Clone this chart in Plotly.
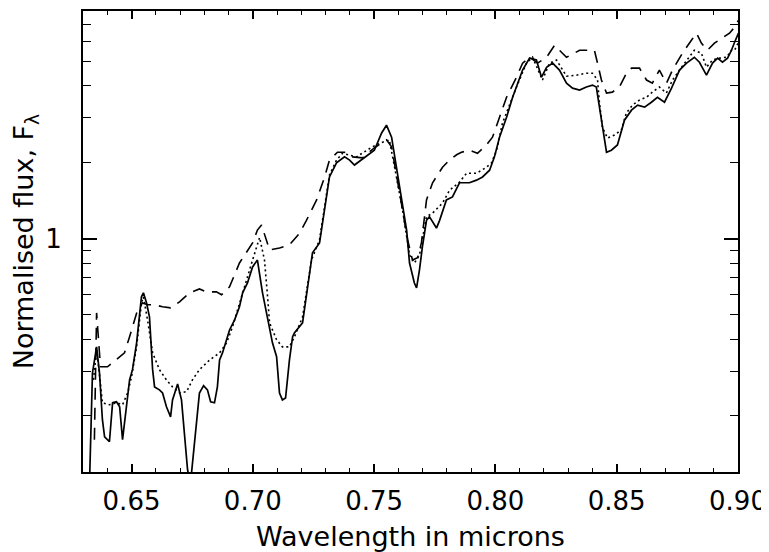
import plotly.graph_objects as go

# ---- data (wavelength in microns, normalised flux) ----
solid_wl = [0.6327, 0.6339, 0.6356, 0.6368, 0.6380, 0.6389, 0.6409, 0.6422, 0.6438, 0.6451,
            0.6463, 0.6475, 0.6492, 0.6504, 0.6521, 0.6541, 0.6549, 0.6562, 0.6574, 0.6587,
            0.6595, 0.6615, 0.6628, 0.6644, 0.6661, 0.6669, 0.6690, 0.6706, 0.6718, 0.6731,
            0.6743, 0.6768, 0.6780, 0.6797, 0.6813, 0.6826, 0.6842, 0.6854, 0.6863, 0.6875,
            0.6896, 0.6904, 0.6925, 0.6945, 0.6958, 0.6978, 0.6999, 0.7019, 0.7040, 0.7069,
            0.7081, 0.7098, 0.7110, 0.7122, 0.7135, 0.7151, 0.7164, 0.7172, 0.7205, 0.7246,
            0.7275, 0.7316, 0.7345, 0.7378, 0.7399, 0.7419, 0.7460, 0.7501, 0.7531, 0.7551,
            0.7572, 0.7592, 0.7617, 0.7634, 0.7646, 0.7666, 0.7675, 0.7687, 0.7699, 0.7716,
            0.7728, 0.7757, 0.7770, 0.7798, 0.7823, 0.7852, 0.7893, 0.7922, 0.7947, 0.7976,
            0.7996, 0.8017, 0.8046, 0.8071, 0.8112, 0.8141, 0.8169, 0.8190, 0.8211, 0.8236,
            0.8264, 0.8293, 0.8318, 0.8347, 0.8375, 0.8400, 0.8416, 0.8429, 0.8441, 0.8458,
            0.8478, 0.8503, 0.8532, 0.8561, 0.8586, 0.8615, 0.8643, 0.8668, 0.8697, 0.8726,
            0.8759, 0.8788, 0.8820, 0.8841, 0.8870, 0.8895, 0.8916, 0.8936, 0.8957, 0.8973,
            0.8986, 0.9002]
solid_flux = [0.110, 0.295, 0.374, 0.295, 0.193, 0.165, 0.158, 0.225, 0.227, 0.217,
              0.161, 0.198, 0.277, 0.304, 0.388, 0.589, 0.611, 0.557, 0.491, 0.304,
              0.260, 0.253, 0.246, 0.217, 0.198, 0.231, 0.267, 0.231, 0.171, 0.1225,
              0.108, 0.181, 0.246, 0.263, 0.253, 0.227, 0.225, 0.260, 0.332, 0.354,
              0.410, 0.436, 0.478, 0.538, 0.611, 0.668, 0.773, 0.823, 0.611, 0.448,
              0.388, 0.342, 0.246, 0.231, 0.235, 0.332, 0.410, 0.425, 0.465, 0.878,
              0.961, 1.75, 1.99, 2.10, 2.04, 1.95, 2.08, 2.23, 2.61, 2.80,
              2.51, 1.91, 1.33, 1.08, 0.801, 0.668, 0.639, 0.752, 0.927, 1.18,
              1.22, 1.10, 1.18, 1.42, 1.46, 1.66, 1.66, 1.70, 1.75, 1.86,
              2.10, 2.51, 3.01, 3.61, 4.62, 5.15, 5.06, 4.33, 4.74, 4.92,
              4.62, 4.10, 3.92, 3.85, 3.96, 4.03, 3.96, 3.30, 2.68, 2.19,
              2.23, 2.34, 2.93, 3.21, 3.36, 3.30, 3.45, 3.61, 3.45, 3.92,
              4.62, 4.92, 5.19, 4.96, 4.41, 4.92, 5.15, 4.96, 5.15, 5.53,
              5.95, 6.46]

dotted_wl = [0.6343, 0.6356, 0.6368, 0.6380, 0.6409, 0.6438, 0.6463, 0.6484, 0.6500, 0.6521,
             0.6541, 0.6549, 0.6566, 0.6587, 0.6615, 0.6644, 0.6669, 0.6698, 0.6727, 0.6751,
             0.6780, 0.6822, 0.6863, 0.6892, 0.6916, 0.6945, 0.6974, 0.6999, 0.7028, 0.7048,
             0.7061, 0.7069, 0.7098, 0.7122, 0.7151, 0.7172, 0.7205, 0.7242, 0.7275, 0.7316,
             0.7345, 0.7370, 0.7427, 0.7493, 0.7535, 0.7563, 0.7592, 0.7617, 0.7646, 0.7666,
             0.7687, 0.7716, 0.7741, 0.7782, 0.7811, 0.7852, 0.7881, 0.7922, 0.7963, 0.7984,
             0.8005, 0.8029, 0.8087, 0.8128, 0.8153, 0.8194, 0.8223, 0.8252, 0.8293, 0.8334,
             0.8375, 0.8400, 0.8421, 0.8429, 0.8441, 0.8462, 0.8491, 0.8519, 0.8540, 0.8565,
             0.8594, 0.8623, 0.8647, 0.8676, 0.8705, 0.8730, 0.8767, 0.8800, 0.8820, 0.8849,
             0.8870, 0.8895, 0.8924, 0.8953, 0.8973, 0.8986, 0.9002]
dotted_flux = [0.277, 0.364, 0.290, 0.225, 0.221, 0.225, 0.221, 0.246, 0.285, 0.374,
               0.557, 0.589, 0.478, 0.354, 0.304, 0.277, 0.260, 0.246, 0.249, 0.277,
               0.304, 0.332, 0.354, 0.388, 0.448, 0.557, 0.687, 0.823, 1.01, 0.823,
               0.589, 0.465, 0.399, 0.374, 0.374, 0.410, 0.491, 0.823, 0.99, 1.78,
               2.04, 2.17, 2.10, 2.30, 2.40, 2.45, 1.75, 1.30, 0.86, 0.801,
               0.86, 1.22, 1.26, 1.38, 1.55, 1.67, 1.81, 1.81, 1.91, 1.99,
               2.23, 2.85, 3.96, 4.92, 5.19, 4.22, 4.92, 5.06, 4.37, 4.41,
               4.49, 4.49, 4.22, 3.42, 2.75, 2.49, 2.56, 2.68, 3.13, 3.36,
               3.52, 3.61, 3.78, 3.96, 3.75, 4.22, 4.74, 5.19, 5.53, 5.39,
               4.74, 5.06, 5.15, 5.19, 5.53, 5.53, 5.95]

dashed_wl = [0.6347, 0.6356, 0.6372, 0.6401, 0.6422, 0.6451, 0.6471, 0.6492, 0.6512, 0.6525,
             0.6545, 0.6566, 0.6595, 0.6628, 0.6661, 0.6698, 0.6739, 0.6780, 0.6809, 0.6850,
             0.6871, 0.6904, 0.6945, 0.6974, 0.6999, 0.7019, 0.7036, 0.7069, 0.7110, 0.7151,
             0.7193, 0.7221, 0.7263, 0.7296, 0.7316, 0.7349, 0.7378, 0.7411, 0.7452, 0.7501,
             0.7531, 0.7551, 0.7572, 0.7592, 0.7617, 0.7638, 0.7658, 0.7679, 0.7695, 0.7716,
             0.7741, 0.7782, 0.7811, 0.7840, 0.7860, 0.7893, 0.7926, 0.7963, 0.7988, 0.8017,
             0.8046, 0.8087, 0.8112, 0.8141, 0.8174, 0.8211, 0.8244, 0.8264, 0.8293, 0.8347,
             0.8408, 0.8421, 0.8437, 0.8458, 0.8482, 0.8511, 0.8540, 0.8561, 0.8594, 0.8623,
             0.8647, 0.8676, 0.8705, 0.8730, 0.8771, 0.8808, 0.8829, 0.8849, 0.8874, 0.8903,
             0.8936, 0.8965, 0.8986, 0.9002]
dashed_flux = [0.161, 0.509, 0.312, 0.312, 0.324, 0.342, 0.354, 0.410, 0.478, 0.523,
               0.557, 0.548, 0.548, 0.538, 0.533, 0.563, 0.611, 0.633, 0.616, 0.616,
               0.600, 0.645, 0.801, 0.878, 0.961, 1.08, 1.13, 0.902, 0.918, 0.944,
               1.05, 1.18, 1.42, 1.75, 2.04, 2.19, 2.19, 2.10, 2.08, 2.28,
               2.38, 2.45, 2.30, 1.81, 1.30, 0.99, 0.823, 0.84, 0.961, 1.42,
               1.66, 1.91, 2.04, 2.14, 2.19, 2.23, 2.17, 2.34, 2.51, 3.01,
               3.61, 4.33, 4.92, 5.19, 4.92, 5.19, 5.79, 5.53, 5.19, 5.53,
               5.53, 4.92, 4.22, 3.75, 3.78, 3.96, 4.49, 4.70, 4.70, 4.22,
               4.10, 4.62, 4.10, 4.62, 5.39, 6.06, 6.46, 5.90, 5.53, 5.90,
               6.17, 6.46, 6.82, 7.27]

x_major_ticks = [0.65, 0.70, 0.75, 0.80, 0.85, 0.90]
x_tick_labels = ["0.65", "0.70", "0.75", "0.80", "0.85", "0.90"]
y_major_ticks = [1]
y_tick_labels = ["1"]
y_minor_ticks = [0.2, 0.3, 0.4, 0.5, 0.6, 0.7, 0.8, 0.9, 2, 3, 4, 5, 6, 7]

FONT = "DejaVu Sans"

fig = go.Figure()
fig.add_trace(go.Scatter(x=solid_wl, y=solid_flux, mode="lines",
                         line=dict(color="black", width=1.7)))
fig.add_trace(go.Scatter(x=dotted_wl, y=dotted_flux, mode="lines",
                         line=dict(color="black", width=1.6, dash="2px,3px")))
fig.add_trace(go.Scatter(x=dashed_wl, y=dashed_flux, mode="lines",
                         line=dict(color="black", width=1.6, dash="12px,8px")))

# page body adds an 8px offset, so the figure is 8px smaller and margins shifted
fig.update_layout(
    width=761, height=544,
    margin=dict(l=75, r=31, t=3, b=80),
    paper_bgcolor="white", plot_bgcolor="white",
    showlegend=False,
    font=dict(family=FONT, size=26, color="black"),
)
fig.update_xaxes(
    range=[0.63, 0.90],
    automargin=False,
    tickmode="array", tickvals=x_major_ticks, ticktext=x_tick_labels,
    ticks="inside", ticklen=8, tickwidth=1.5, tickcolor="black",
    minor=dict(tickmode="linear", tick0=0.63, dtick=0.01, ticks="inside",
               ticklen=4, tickwidth=1.3, tickcolor="black"),
    showline=True, linecolor="black", linewidth=1.8, mirror="allticks",
    showgrid=False, zeroline=False,
    ticklabelstandoff=5, ticklabeloverflow="allow",
    tickfont=dict(size=26),
    title=dict(text="Wavelength in microns", font=dict(size=27), standoff=20),
)
fig.update_yaxes(
    type="log",
    range=[-0.9208, 0.8976],
    automargin=False,
    tickmode="array", tickvals=y_major_ticks, ticktext=y_tick_labels,
    ticks="inside", ticklen=14, tickwidth=1.5, tickcolor="black",
    minor=dict(tickmode="array", tickvals=y_minor_ticks, ticks="inside",
               ticklen=8, tickwidth=1.3, tickcolor="black"),
    showline=True, linecolor="black", linewidth=1.8, mirror="allticks",
    showgrid=False, zeroline=False,
    ticklabelstandoff=14, ticklabeloverflow="allow",
    tickfont=dict(size=26),
    title=dict(text="Normalised flux, F<sub>λ</sub>", font=dict(size=27), standoff=14),
)

fig.write_html("out.html")
